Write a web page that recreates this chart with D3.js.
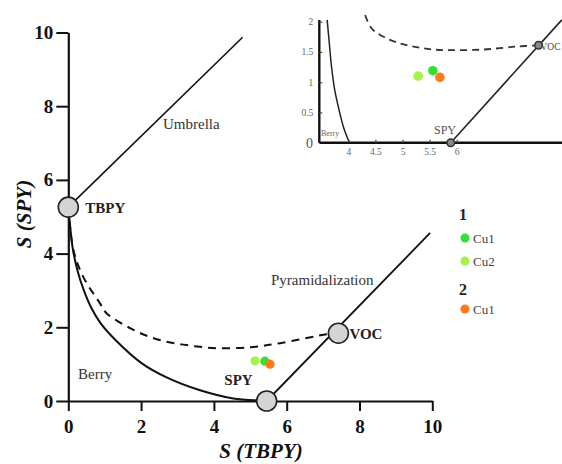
<!DOCTYPE html>
<html><head><meta charset="utf-8">
<script src="https://cdn.jsdelivr.net/npm/d3@7"></script>
<style>body{margin:0;background:#fff}svg{display:block}</style>
</head><body>
<svg id="c" width="562" height="464"></svg>
<script>
// ---- main plot data ----
const xTicks = [0, 2, 4, 6, 8, 10];
const yTicks = [0, 2, 4, 6, 8, 10];
const berryX = [0, 0.05, 0.12, 0.25, 0.42, 0.62, 0.88, 1.33, 2.02, 2.7, 3.62, 4.53, 5.27, 5.45];
const berryY = [5.26, 4.75, 4.15, 3.55, 3.02, 2.55, 2.12, 1.62, 1.02, 0.64, 0.29, 0.07, 0.01, 0];
const dashX = [0, 0.14, 0.41, 0.87, 1.05, 1.79, 2.24, 2.7, 3.16, 3.62, 4.08, 5.0, 5.82, 7.1, 7.42];
const dashY = [5.26, 4.10, 3.37, 2.65, 2.38, 1.93, 1.74, 1.61, 1.53, 1.47, 1.43, 1.46, 1.57, 1.81, 1.84];
const umbrellaX = [0, 4.79];
const umbrellaY = [5.26, 9.87];
const pyrX = [5.45, 9.94];
const pyrY = [0, 4.56];
const refNames = ["TBPY", "SPY", "VOC"];
const refX = [0, 5.45, 7.42];
const refY = [5.26, 0, 1.84];
const pointNames = ["1 Cu1", "1 Cu2", "2 Cu1"];
const pointX = [5.40, 5.13, 5.54];
const pointY = [1.08, 1.09, 1.00];
const pointColors = ["#33e033", "#a8f04c", "#ff7a1a"];
// ---- inset data ----
const insetXTicks = [4, 4.5, 5, 5.5, 6];
const insetYTicks = [0.5, 1, 1.5, 2];
const iBerryX = [3.61, 3.65, 3.69, 3.75, 3.83, 3.91, 4.02];
const iBerryY = [2.03, 1.64, 1.26, 0.87, 0.54, 0.26, 0];
const iDashX = [4.31, 4.43, 4.65, 4.95, 5.26, 5.57, 5.88, 6.49, 7.11, 7.51];
const iDashY = [2.11, 1.89, 1.75, 1.64, 1.58, 1.54, 1.53, 1.54, 1.59, 1.61];
const iPyrX = [5.89, 7.94];
const iPyrY = [0, 2.03];
const iRefX = [5.89, 7.51];
const iRefY = [0, 1.61];
const iPointX = [5.56, 5.29, 5.69];
const iPointY = [1.19, 1.10, 1.08];
// legend
const legendGroups = ["1", "2"];
const legendItems = [{g: "1", label: "Cu1", c: 0}, {g: "1", label: "Cu2", c: 1}, {g: "2", label: "Cu1", c: 2}];

const svg = d3.select("#c");
const serif = "'Liberation Serif','Times New Roman',serif";
const x = d3.scaleLinear([0, 10], [68.3, 432.3]);
const y = d3.scaleLinear([0, 10], [401, 32.5]);
const zip = (a, b) => a.map((v, i) => [v, b[i]]);

// axes
const gx = svg.append("g").attr("transform", "translate(0,401)")
  .call(d3.axisBottom(x).tickValues(xTicks).tickSize(10).tickPadding(9).tickSizeOuter(0));
const gy = svg.append("g").attr("transform", "translate(68.3,0)")
  .call(d3.axisLeft(y).tickValues(yTicks).tickSize(12).tickPadding(3).tickSizeOuter(0));
[gx, gy].forEach(g => {
  g.select(".domain").attr("stroke", "#111").attr("stroke-width", 2.2);
  g.selectAll(".tick line").attr("stroke", "#111").attr("stroke-width", 2);
  g.selectAll(".tick text").attr("font-family", serif).attr("font-size", 19)
    .attr("font-weight", "bold").attr("fill", "#111");
});

const line = d3.line().x(d => x(d[0])).y(d => y(d[1]));
const smooth = d3.line().x(d => x(d[0])).y(d => y(d[1])).curve(d3.curveCatmullRom.alpha(0.5));

svg.append("path").attr("d", line(zip(umbrellaX, umbrellaY))).attr("fill", "none").attr("stroke", "#111").attr("stroke-width", 1.6);
svg.append("path").attr("d", line(zip(pyrX, pyrY))).attr("fill", "none").attr("stroke", "#111").attr("stroke-width", 1.8);
svg.append("path").attr("d", smooth(zip(berryX, berryY)))
  .attr("fill", "none").attr("stroke", "#111").attr("stroke-width", 2);
svg.append("path").attr("d", smooth(zip(dashX, dashY)))
  .attr("fill", "none").attr("stroke", "#111").attr("stroke-width", 2).attr("stroke-dasharray", "8,6");

// reference circles
svg.selectAll("circle.ref").data(refX).join("circle").attr("class", "ref")
  .attr("cx", (d, i) => x(d)).attr("cy", (d, i) => y(refY[i])).attr("r", 10)
  .attr("fill", "#d4d4d4").attr("stroke", "#222").attr("stroke-width", 1.6);

// data points
svg.selectAll("circle.pt").data(pointX).join("circle").attr("class", "pt")
  .attr("cx", d => x(d)).attr("cy", (d, i) => y(pointY[i])).attr("r", 4.6)
  .attr("fill", (d, i) => pointColors[i]);

// labels
const txt = (t, px, py, opts = {}) => svg.append("text").text(t).attr("x", px).attr("y", py)
  .attr("font-family", serif).attr("font-size", opts.size || 15).attr("font-weight", opts.weight || "normal")
  .attr("font-style", opts.style || "normal").attr("fill", opts.fill || "#222").attr("text-anchor", opts.anchor || "start");
txt("TBPY", x(refX[0]) + 17, y(refY[0]) + 6, {weight: "bold", size: 15});
txt("SPY", x(refX[1]) - 14, y(refY[1]) - 16, {weight: "bold", size: 15, anchor: "end"});
txt("VOC", x(refX[2]) + 11, y(refY[2]) + 6, {weight: "bold", size: 15});
txt("Umbrella", 163, 129, {size: 15, fill: "#333"});
txt("Pyramidalization", 271, 285, {size: 15, fill: "#333"});
txt("Berry", 78, 379, {size: 15, fill: "#333"});
txt("S (TBPY)", 261, 458, {weight: "bold", style: "italic", size: 21, anchor: "middle", fill: "#111"});
svg.append("text").text("S (SPY)").attr("transform", "translate(31,214) rotate(-90)")
  .attr("text-anchor", "middle").attr("font-family", serif).attr("font-size", 21)
  .attr("font-weight", "bold").attr("font-style", "italic").attr("fill", "#111");

// legend
const lgY = {"1": 220, "2": 295};
legendGroups.forEach(g => txt(g, 459, lgY[g], {weight: "bold", size: 16, fill: "#222"}));
const itemY = [238, 261, 309];
legendItems.forEach((it, i) => {
  svg.append("circle").attr("cx", 465).attr("cy", itemY[i]).attr("r", 4.5).attr("fill", pointColors[it.c]);
  txt(it.label, 473, itemY[i] + 4.5, {size: 13, fill: "#444"});
});

// ---- inset ----
const xi = d3.scaleLinear([4, 6], [348.3, 456.7]);
const yi = d3.scaleLinear([0, 2], [142.7, 21.7]);
const inset = svg.append("g");
inset.append("defs").append("clipPath").attr("id", "ic").append("rect")
  .attr("x", 319.3).attr("y", 0).attr("width", 243).attr("height", 143);
const ig = inset.append("g").attr("clip-path", "url(#ic)");
const il = d3.line().x(d => xi(d[0])).y(d => yi(d[1])).curve(d3.curveCatmullRom);
ig.append("path").attr("d", il(zip(iBerryX, iBerryY))).attr("fill", "none").attr("stroke", "#222").attr("stroke-width", 1.5);
ig.append("path").attr("d", il(zip(iDashX, iDashY))).attr("fill", "none").attr("stroke", "#333").attr("stroke-width", 1.8).attr("stroke-dasharray", "7,5");
ig.append("path").attr("d", d3.line().x(d => xi(d[0])).y(d => yi(d[1]))(zip(iPyrX, iPyrY))).attr("fill", "none").attr("stroke", "#222").attr("stroke-width", 1.6);

const gix = inset.append("g").attr("transform", "translate(0,142.7)")
  .call(d3.axisBottom(xi).tickValues(insetXTicks).tickSize(-3).tickPadding(6).tickSizeOuter(0).tickFormat(d3.format("")));
gix.select(".domain").attr("d", `M319.3,0H562`).attr("stroke", "#111").attr("stroke-width", 2.4);
const giy = inset.append("g").attr("transform", "translate(319.3,0)")
  .call(d3.axisLeft(yi).tickValues(insetYTicks).tickSize(-3).tickPadding(6).tickSizeOuter(0).tickFormat(d3.format("")));
giy.select(".domain").attr("d", `M0,142.7V20`).attr("stroke", "#111").attr("stroke-width", 2.4);
[gix, giy].forEach(g => {
  g.selectAll(".tick line").attr("stroke", "#444").attr("stroke-width", 1.2);
  g.selectAll(".tick text").attr("font-family", serif).attr("font-size", 9.5).attr("fill", "#666");
});
txt("0", 313, 147.5, {size: 14, fill: "#555", anchor: "end"});

inset.selectAll("circle.iref").data(iRefX).join("circle").attr("class", "iref")
  .attr("cx", d => xi(d)).attr("cy", (d, i) => yi(iRefY[i])).attr("r", 3.8)
  .attr("fill", "#8a8a8a").attr("stroke", "#333").attr("stroke-width", 1.5);
inset.selectAll("circle.ipt").data(iPointX).join("circle").attr("class", "ipt")
  .attr("cx", d => xi(d)).attr("cy", (d, i) => yi(iPointY[i])).attr("r", 4.8)
  .attr("fill", (d, i) => pointColors[i]);
txt("SPY", 445, 134, {size: 12, fill: "#555", anchor: "middle"});
txt("VOC", 540.5, 49.5, {size: 9.5, fill: "#444"});
txt("Berry", 321, 136, {size: 8, fill: "#666"});
</script>
</body></html>
